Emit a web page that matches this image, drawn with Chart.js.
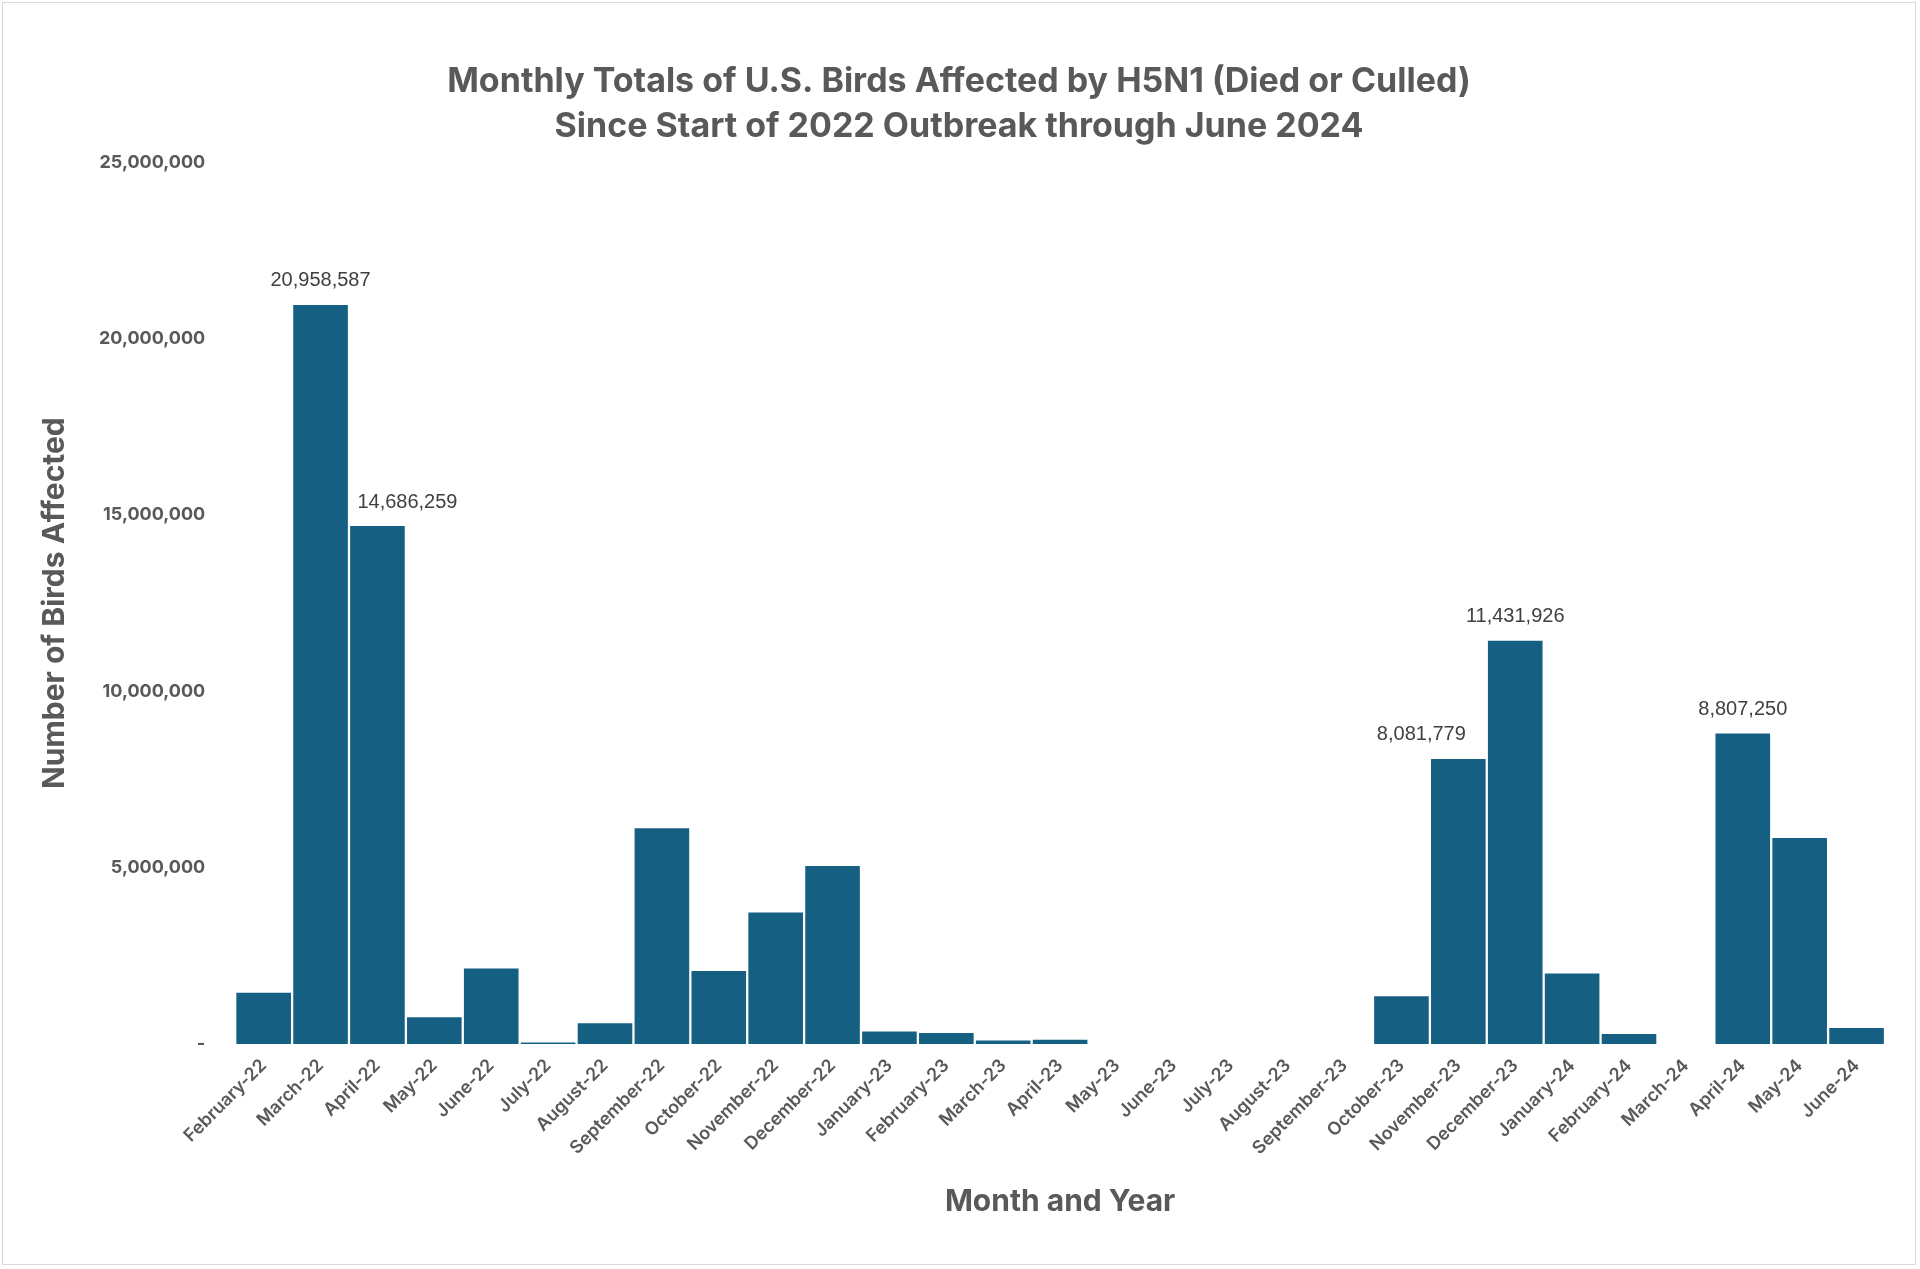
<!DOCTYPE html>
<html>
<head>
<meta charset="utf-8">
<script src="https://cdn.jsdelivr.net/npm/chart.js@4/dist/chart.umd.min.js"></script>
<style>
html, body { margin: 0; padding: 0; background: #fff; }
#wrap { position: absolute; left: 2px; top: 2px; width: 1914px; height: 1263px; border: 1px solid #d9d9d9; box-sizing: border-box; }
</style>
</head>
<body>
<div id="wrap"><canvas id="c"></canvas></div>
<script>
const months = ['February-22', 'March-22', 'April-22', 'May-22', 'June-22', 'July-22', 'August-22', 'September-22', 'October-22', 'November-22', 'December-22', 'January-23', 'February-23', 'March-23', 'April-23', 'May-23', 'June-23', 'July-23', 'August-23', 'September-23', 'October-23', 'November-23', 'December-23', 'January-24', 'February-24', 'March-24', 'April-24', 'May-24', 'June-24'];
const birds = [1450000, 20958587, 14686259, 760000, 2140000, 40000, 590000, 6120000, 2070000, 3730000, 5050000, 350000, 310000, 100000, 120000, 0, 0, 0, 0, 0, 1350000, 8081779, 11431926, 2000000, 280000, 0, 8807250, 5840000, 450000];
const labelled = ['March-22', 'April-22', 'November-23', 'December-23', 'April-24'];
// label nudges (as in the original chart, where some labels sit off-centre)
const labelShift = { 'April-22': 30, 'November-23': -37 };

const grey = '#595959';
const valueLabels = {
	id: 'valueLabels',
	afterDatasetsDraw(chart) {
		const ctx = chart.ctx;
		const meta = chart.getDatasetMeta(0);
		ctx.save();
		ctx.font = '20px "Liberation Sans", Arial, sans-serif';
		ctx.fillStyle = '#404040';
		ctx.textAlign = 'center';
		ctx.textBaseline = 'bottom';
		meta.data.forEach((bar, i) => {
			if (!labelled.includes(months[i])) return;
			ctx.fillText(birds[i].toLocaleString('en-US'), bar.x + (labelShift[months[i]] || 0), bar.y - 14);
		});
		ctx.restore();
	}
};

new Chart(document.getElementById('c'), {
	type: 'bar',
	data: {
		labels: months,
		datasets: [{
			data: birds,
			backgroundColor: '#156082',
			barPercentage: 1,
			categoryPercentage: 0.96
		}]
	},
	options: {
		responsive: true,
		maintainAspectRatio: false,
		animation: false,
		layout: { padding: { left: 30, right: 30, top: 22, bottom: 40 } },
		plugins: {
			legend: { display: false },
			tooltip: { enabled: false },
			title: {
				display: true,
				text: ['Monthly Totals of U.S. Birds Affected by H5N1 (Died or Culled)', 'Since Start of 2022 Outbreak through June 2024'],
				color: grey,
				font: { family: 'Inter, "Noto Sans", sans-serif', size: 34, weight: 'bold', lineHeight: 1.3 },
				padding: { top: 35, bottom: 14 }
			}
		},
		scales: {
			x: {
				grid: { display: false },
				border: { display: false },
				ticks: {
					color: grey,
					maxRotation: 45,
					minRotation: 45,
					autoSkip: false,
					font: { family: 'Inter, "Noto Sans", sans-serif', size: 18, weight: '600' }
				},
				title: {
					display: true,
					text: 'Month and Year',
					color: grey,
					font: { family: 'Inter, "Noto Sans", sans-serif', size: 30, weight: 'bold' },
					padding: { top: 22 }
				}
			},
			y: {
				min: 0,
				max: 25000000,
				grid: { display: false },
				border: { display: false },
				ticks: {
					stepSize: 5000000,
					color: grey,
					padding: 22,
					font: { family: 'Inter, "Noto Sans", sans-serif', size: 18, weight: 'bold' },
					callback: v => v === 0 ? '-' : v.toLocaleString('en-US')
				},
				title: {
					display: true,
					text: 'Number of Birds Affected',
					color: grey,
					font: { family: 'Inter, "Noto Sans", sans-serif', size: 30, weight: 'bold' },
					padding: { bottom: 4 }
				}
			}
		}
	},
	plugins: [valueLabels]
});
</script>
</body>
</html>
